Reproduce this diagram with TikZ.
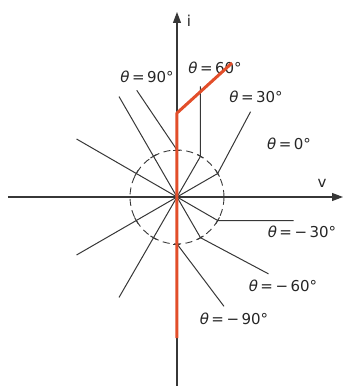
\documentclass[tikz,border=0pt]{standalone}
\usepackage{fontspec}
\setmainfont{DejaVu Sans}
\usetikzlibrary{arrows.meta,calc}
\definecolor{inkline}{RGB}{55,55,55}
\definecolor{trace}{RGB}{226,78,42}
\newcommand{\thv}{\textit{θ}}

\begin{document}
\begin{tikzpicture}[x=1pt,y=1pt,
  ax/.style={draw=inkline,line width=1.1pt,-{Triangle[length=11pt,width=8pt]}},
  crv/.style={draw=inkline,line width=1pt},
  ring/.style={draw=inkline,line width=0.9pt,dash pattern=on 7pt off 4.5pt},
  tck/.style={draw=inkline,line width=1pt},
  hot/.style={draw=trace,line width=3pt,line join=round},
  lbl/.style={font=\fontsize{15}{15}\selectfont,text=black!85,inner sep=0pt}]
  \useasboundingbox (-177,-189) rectangle (167,197);
  \coordinate (O) at (0,0);
  % axes
  \coordinate (vl) at (-169,0);
  \coordinate (vr) at (166,0);
  \coordinate (ib) at (0,-189);
  \coordinate (it) at (0,185);
  \draw[ax] (vl) -- (vr);
  \draw[ax] (ib) -- (it);
  \node[lbl] (vlab) at (145,14) {v};
  \node[lbl] (ilab) at (12,176) {i};
  % dashed circle with ticks
  \draw[ring] (O) circle[radius=47];
  \foreach \a in {30,60,90,120,150,210,240,270,300,330}
    \draw[tck] (\a:47) ++(\a+90:3.5) -- ++(\a-90:7);
  % bent lines, one per theta
  \foreach \t/\p/\l in {30/62/70, 60/90/70, 90/124/72, -30/0/76, -60/-28/77, -90/-53/78}{
    \coordinate (b\t) at (\t:47);
    \coordinate (n\t) at (\t+180:116);
    \coordinate (e\t) at ($(b\t)+(\p:\l)$);
    \draw[crv] (n\t) -- (O) -- (b\t) -- (e\t);
  }
  % labels
  \node[lbl] (t90) at (-30,120) {\thv\,=\,90°};
  \node[lbl] (t60) at (38,129) {\thv\,=\,60°};
  \node[lbl] (t30) at (79,100) {\thv\,=\,30°};
  \node[lbl] (t0) at (112,53) {\thv\,=\,0°};
  \node[lbl] (tm30) at (125,-35) {\thv\,=\,−\,30°};
  \node[lbl] (tm60) at (106,-89) {\thv\,=\,−\,60°};
  \node[lbl] (tm90) at (57,-122) {\thv\,=\,−\,90°};
  % highlighted path
  \coordinate (rb) at (0,-141);
  \coordinate (rk) at (0,84);
  \coordinate (rt) at (55,134);
  \draw[hot] (rb) -- (rk) -- (rt);
\end{tikzpicture}
\end{document}
